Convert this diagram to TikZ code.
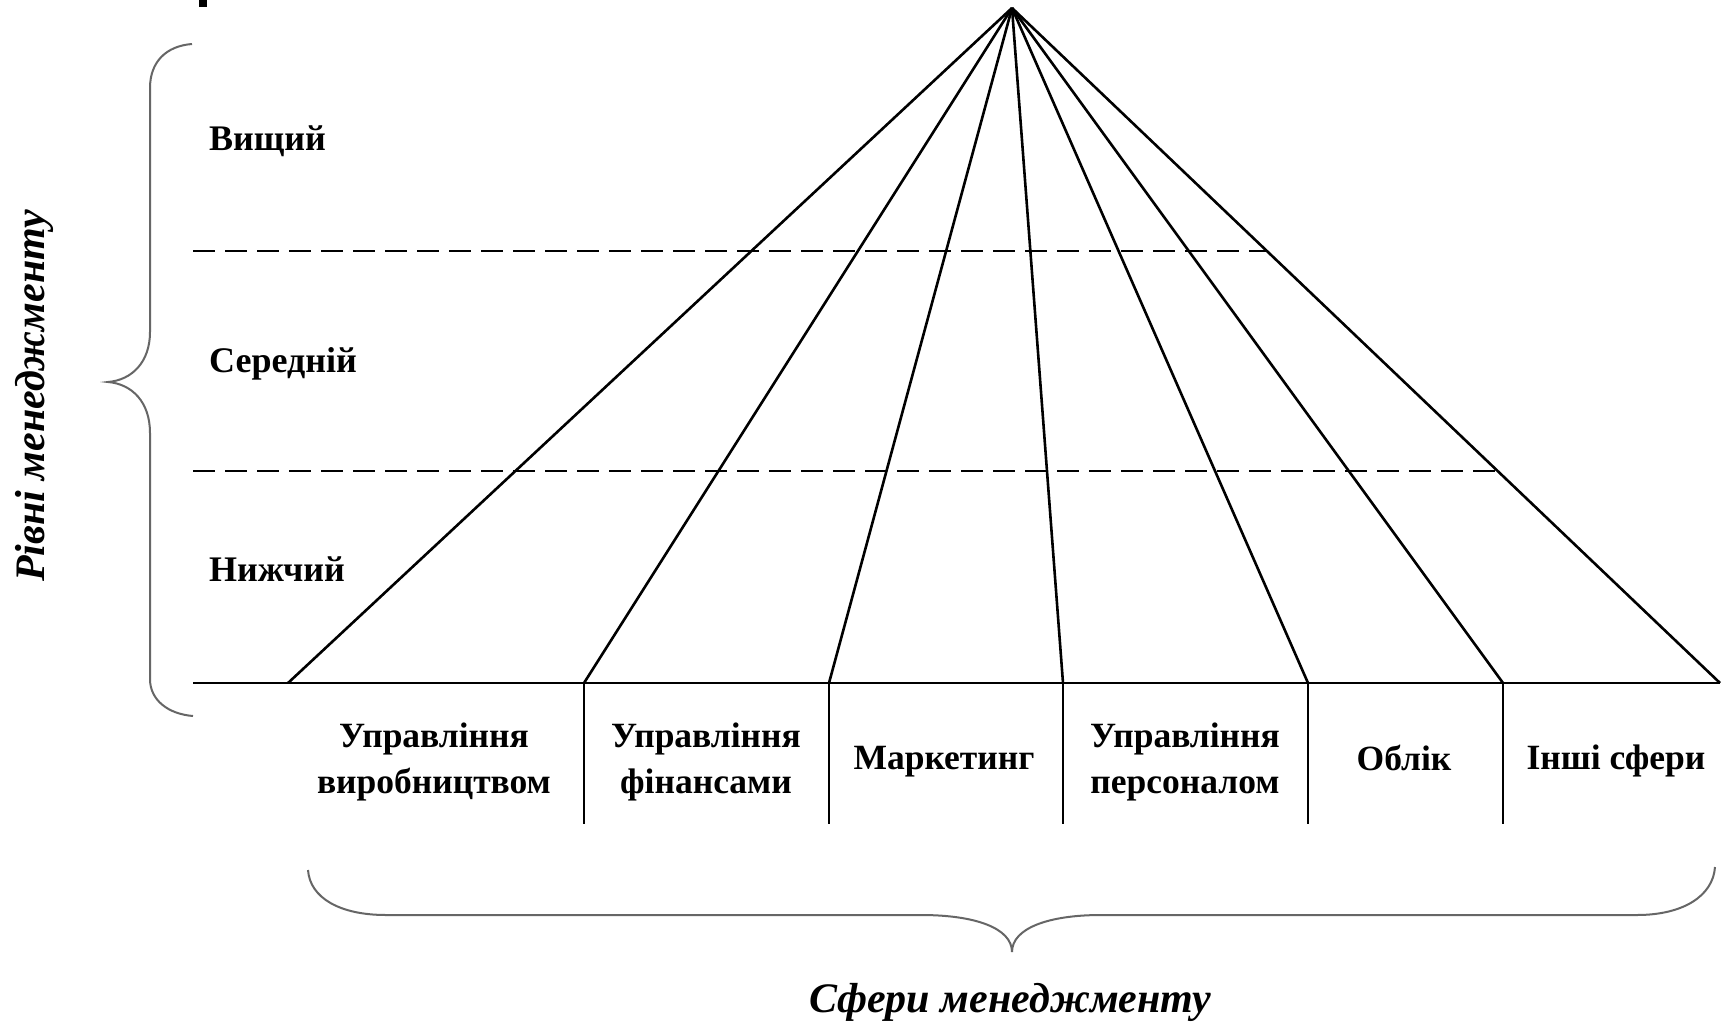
\documentclass[tikz,border=0pt]{standalone}
\usepackage{fontspec}
\setmainfont{Liberation Serif}
\begin{document}
\begin{tikzpicture}[x=1pt,y=-1pt,
  ray/.style={line width=2.6pt, black},
  divider/.style={line width=2.3pt, black},
  level/.style={line width=2.6pt, dash pattern=on 22pt off 10pt},
  bracestroke/.style={line width=2pt, black!60},
  lvl/.style={anchor=base west, inner sep=0pt, font=\fontsize{36}{42}\selectfont\bfseries},
  sph/.style={anchor=center, inner sep=0pt, align=center, font=\fontsize{35.5}{46}\selectfont\bfseries},
  ttl/.style={inner sep=0pt, font=\fontsize{42}{48}\selectfont\bfseries\itshape}]
\useasboundingbox (0,0) rectangle (1727,1028);
\fill[white] (0,0) rectangle (1727,1028);
% small mark at top
\fill[black] (199,0) rectangle (207,7);
% coordinates
\coordinate (apex) at (1012,8);
\coordinate (b0) at (193,683);
\coordinate (b1) at (288,683);
\coordinate (b2) at (584,683);
\coordinate (b3) at (829,683);
\coordinate (b4) at (1063,683);
\coordinate (b5) at (1308,683);
\coordinate (b6) at (1503,683);
\coordinate (b7) at (1720,683);
\coordinate (d2) at (584,824);
\coordinate (d3) at (829,824);
\coordinate (d4) at (1063,824);
\coordinate (d5) at (1308,824);
\coordinate (d6) at (1503,824);
\coordinate (u1) at (193,251);
\coordinate (u2) at (1267,251);
\coordinate (m1) at (193,471);
\coordinate (m2) at (1500,471);
% dashed level lines
\draw[level] (u1) -- (u2);
\draw[level] (m1) -- (m2);
% rays
\foreach \i in {1,...,7} \draw[ray] (apex) -- (b\i);
% baseline
\draw[line width=2.8pt] (b0) -- (b7);
% dividers
\foreach \i in {2,...,6} \draw[divider] (b\i) -- (d\i);
% left brace
\draw[bracestroke] (192,44) .. controls (166,46) and (150,62) .. (150,88)
  -- (150,332) .. controls (150,362) and (132,380) .. (108,382)
  .. controls (132,384) and (150,402) .. (150,433)
  -- (150,679) .. controls (150,700) and (168,714) .. (193,716);
% bottom brace
\draw[bracestroke] (308,870) .. controls (310,898) and (340,915) .. (386,915)
  -- (921,915) .. controls (975,915) and (1012,928) .. (1012,952)
  .. controls (1012,928) and (1049,915) .. (1101,915)
  -- (1637,915) .. controls (1683,915) and (1713,896) .. (1715,867);
% level labels
\node[lvl] (top) at (209,150) {Вищий};
\node[lvl] (mid) at (209,372) {Середній};
\node[lvl] (low) at (209,581) {Нижчий};
% sphere labels
\node[sph] (s1) at (434,762) {Управління\\виробництвом};
\node[sph] (s2) at (706,762) {Управління\\фінансами};
\node[sph] (s3) at (944,762) {Маркетинг};
\node[sph] (s4) at (1185,762) {Управління\\персоналом};
\node[sph] (s5) at (1404,758) {Облік};
\node[sph] (s6) at (1616,761) {Інші сфери};
% titles
\node[ttl, rotate=90] (levels) at (34,396) {Рівні менеджменту};
\node[ttl] (spheres) at (1010,1002) {Сфери менеджменту};
\end{tikzpicture}
\end{document}
